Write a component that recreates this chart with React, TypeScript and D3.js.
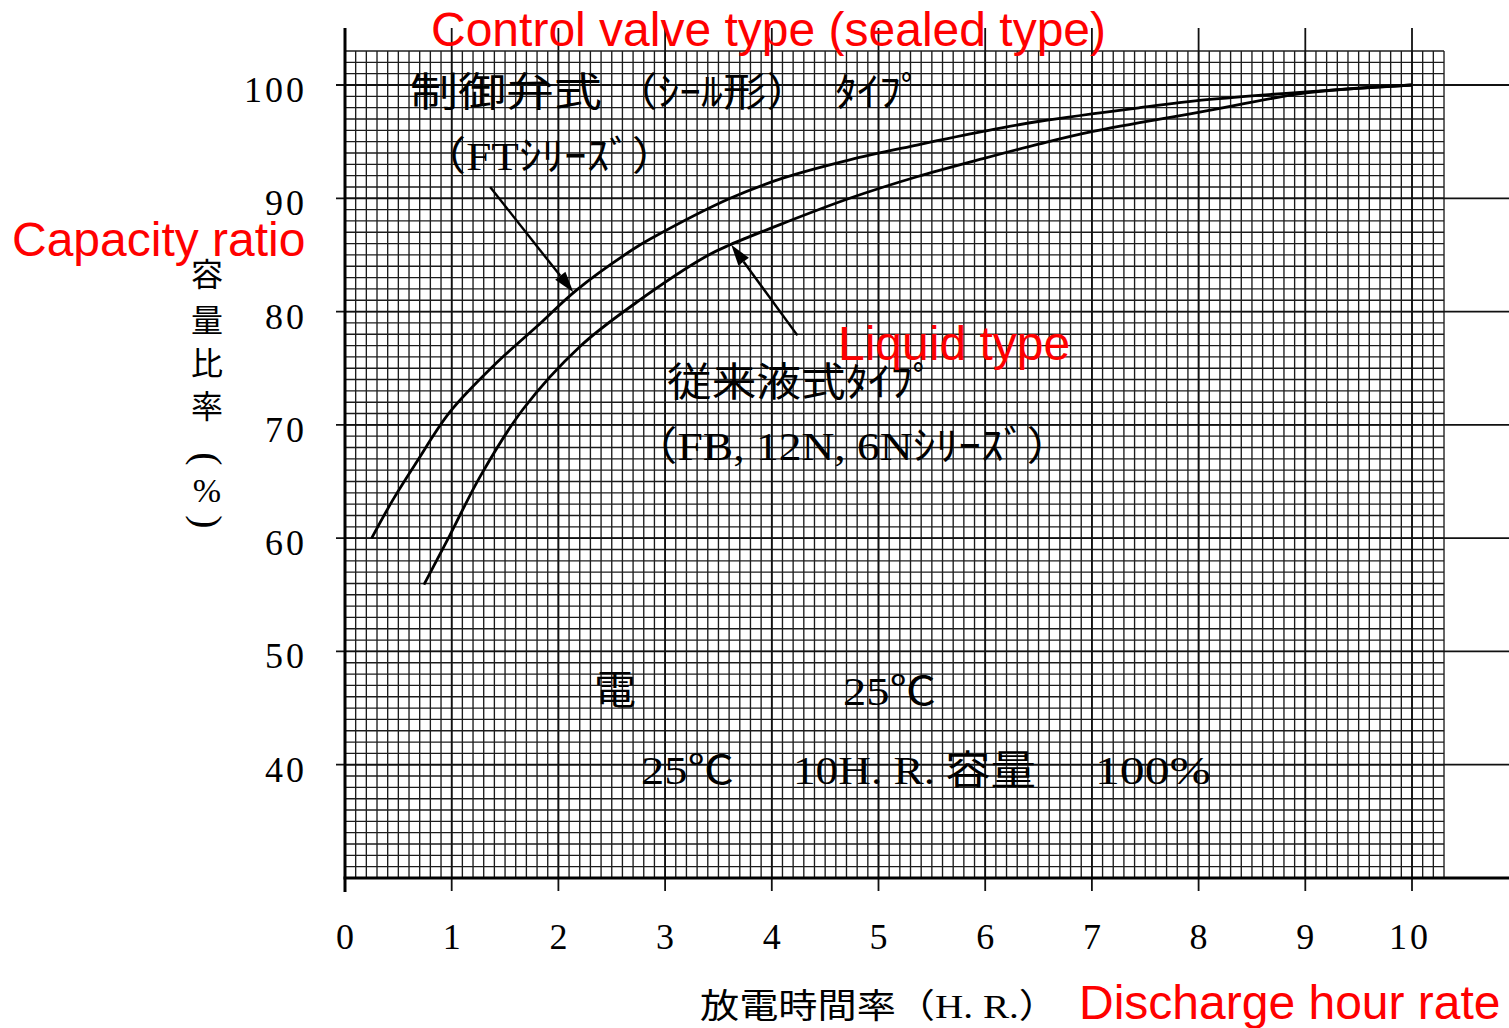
import React from "react";
import * as d3 from "d3";

// ---- data ----
const xTicks = [0, 1, 2, 3, 4, 5, 6, 7, 8, 9, 10];
const yTicks = [40, 50, 60, 70, 80, 90, 100];

// Control valve (sealed) type – FT series
const sealedHours = [0.25, 0.45, 0.67, 0.98, 1.39, 1.8, 2.17, 2.7, 2.86, 3.61, 4.11, 4.73, 5.36, 5.98, 6.51, 7.45, 8.08, 9.01, 10];
const sealedCapacity = [60.0, 63.4, 66.7, 71.1, 75.2, 78.7, 81.9, 85.5, 86.4, 90.0, 91.8, 93.4, 94.7, 95.9, 96.8, 98.0, 98.7, 99.4, 100];

// Conventional liquid type – FB, 12N, 6N series
const liquidHours = [0.74, 0.98, 1.27, 1.67, 2.2, 2.73, 3.39, 3.61, 4.11, 4.73, 5.36, 5.98, 6.51, 7.01, 8.01, 9.01, 10];
const liquidCapacity = [55.9, 60.2, 65.5, 71.4, 76.9, 80.8, 84.9, 85.9, 87.8, 90.0, 91.9, 93.5, 94.8, 95.9, 97.6, 99.3, 100];

// annotation arrows: [fromX, fromY, toX, toY] in data units
const arrowSealed = [1.36, 91.0, 2.14, 81.7];
const arrowLiquid = [4.24, 77.9, 3.62, 85.9];

const yTitleChars = ["容", "量", "比", "率"];

export default function App() {
  const W = 1509;
  const H = 1028;
  const x = d3.scaleLinear().domain([0, 10]).range([345, 1412]);
  const y = d3.scaleLinear().domain([30, 100]).range([878, 85]);
  const gridXMax = 10.3;
  const gridYMax = 103;
  const minorX = d3.range(0, 104).map((i) => i / 10);
  const minorY = d3.range(30, gridYMax + 1);

  const line = d3
    .line<[number, number]>()
    .x((d) => x(d[0]))
    .y((d) => y(d[1]))
    .curve(d3.curveCatmullRom.alpha(0.5));

  const sealed = sealedHours.map((h, i) => [h, sealedCapacity[i]] as [number, number]);
  const liquid = liquidHours.map((h, i) => [h, liquidCapacity[i]] as [number, number]);

  const arrow = (a: number[]) => {
    const x1 = x(a[0]), y1 = y(a[1]), x2 = x(a[2]), y2 = y(a[3]);
    const ang = Math.atan2(y2 - y1, x2 - x1);
    const L = 21, hw = 6.5;
    const bx = x2 - L * Math.cos(ang), by = y2 - L * Math.sin(ang);
    const px = -Math.sin(ang) * hw, py = Math.cos(ang) * hw;
    return (
      <g>
        <line x1={x1} y1={y1} x2={bx} y2={by} stroke="#000" strokeWidth={2.4} />
        <polygon points={`${x2},${y2} ${bx + px},${by + py} ${bx - px},${by - py}`} fill="#000" />
      </g>
    );
  };

  const serifJP = "'Liberation Serif', 'Noto Sans CJK JP', serif";
  const jp = "'Noto Sans CJK JP', sans-serif";
  const red = "'Liberation Sans', Arial, sans-serif";
  const gridStroke = "#1c1c1c";

  return (
    <svg width={W} height={H} style={{ position: "absolute", left: 0, top: 0, display: "block", background: "#fff" }}>
      <rect x={0} y={0} width={W} height={H} fill="#fff" />
      {/* minor grid */}
      <g stroke={gridStroke} strokeWidth={1.35}>
        {minorX.map((v) => (
          <line key={"vx" + v} x1={x(v)} x2={x(v)} y1={y(30)} y2={y(gridYMax)} />
        ))}
        {minorY.map((v) => (
          <line key={"hy" + v} x1={x(0)} x2={x(gridXMax)} y1={y(v)} y2={y(v)} />
        ))}
      </g>
      {/* major lines extending */}
      <g stroke="#111" strokeWidth={1.8}>
        {xTicks.map((v) => (
          <line key={"mx" + v} x1={x(v)} x2={x(v)} y1={28} y2={891} />
        ))}
        {yTicks.map((v) => (
          <line key={"my" + v} x1={336} x2={W} y1={y(v)} y2={y(v)} />
        ))}
      </g>
      {/* axes */}
      <line x1={x(0)} x2={x(0)} y1={28} y2={892} stroke="#000" strokeWidth={3} />
      <line x1={x(0) - 1.5} x2={W} y1={y(30)} y2={y(30)} stroke="#000" strokeWidth={3} />

      {/* curves */}
      <path d={line(sealed) || ""} fill="none" stroke="#000" strokeWidth={2.8} />
      <path d={line(liquid) || ""} fill="none" stroke="#000" strokeWidth={2.8} />
      {arrow(arrowSealed)}
      {arrow(arrowLiquid)}

      {/* tick labels */}
      <g fontFamily={serifJP} fontSize={36} fill="#000">
        {yTicks.map((v) => (
          <text key={"yl" + v} x={307} y={y(v) + 17} textAnchor="end" letterSpacing={3}>
            {v}
          </text>
        ))}
        {xTicks.map((v) => (
          <text key={"xl" + v} x={x(v) + (v === 10 ? -2 : 0)} y={949} textAnchor="middle" letterSpacing={v === 10 ? 3 : 0}>
            {v}
          </text>
        ))}
      </g>

      {/* y title vertical */}
      <g fontFamily={jp} fontSize={32} fill="#000" textAnchor="middle">
        {yTitleChars.map((c, i) => (
          <text key={c} x={207} y={[272, 318, 361, 404][i]} dominantBaseline="central">
            {c}
          </text>
        ))}
        <text x={207} y={459} dominantBaseline="central" fontFamily={serifJP} fontSize={40} transform="rotate(90 207 459)">
          (
        </text>
        <text x={207} y={490} dominantBaseline="central" fontFamily={serifJP} fontSize={34}>
          %
        </text>
        <text x={207} y={522} dominantBaseline="central" fontFamily={serifJP} fontSize={40} transform="rotate(90 207 522)">
          )
        </text>
      </g>

      {/* in-chart Japanese annotations */}
      <g fill="#000" fontFamily={serifJP} fontSize={40}>
        <text x={410} y={106} textLength={192} lengthAdjust="spacingAndGlyphs" fontFamily={jp}>制御弁式</text>
        <text x={614} y={106} textLength={196} lengthAdjust="spacingAndGlyphs">（ｼｰﾙ形）</text>
        <text x={835} y={106} textLength={88} lengthAdjust="spacingAndGlyphs" fontFamily={jp}>ﾀｲﾌﾟ</text>
        <text x={421} y={170} textLength={256} lengthAdjust="spacingAndGlyphs">（FTｼﾘｰｽﾞ）</text>
        <text x={667} y={396} textLength={268} lengthAdjust="spacingAndGlyphs" fontFamily={jp}>従来液式ﾀｲﾌﾟ</text>
        <text x={632} y={460} textLength={440} lengthAdjust="spacingAndGlyphs">（FB, 12N, 6Nｼﾘｰｽﾞ）</text>
        <text x={594} y={704} fontFamily={jp} textLength={42} lengthAdjust="spacingAndGlyphs">電</text>
        <text x={843} y={705} textLength={93} lengthAdjust="spacingAndGlyphs">25℃</text>
        <text x={641} y={784} textLength={93} lengthAdjust="spacingAndGlyphs">25℃</text>
        <text x={793} y={784} textLength={142} lengthAdjust="spacingAndGlyphs">10H. R.</text>
        <text x={945} y={784} textLength={91} lengthAdjust="spacingAndGlyphs" fontFamily={jp}>容量</text>
        <text x={1095} y={784} textLength={116} lengthAdjust="spacingAndGlyphs">100%</text>
      </g>

      {/* x title */}
      <text x={700} y={1018} fontFamily={serifJP} fontSize={34} textLength={358} lengthAdjust="spacingAndGlyphs" fill="#000">
        放電時間率（H. R.）
      </text>

      {/* red English annotations */}
      <g fill="#ff0000" fontFamily={red} fontSize={48}>
        <text x={431} y={46}>Control valve type (sealed type)</text>
        <text x={12} y={256}>Capacity ratio</text>
        <text x={838} y={360}>Liquid type</text>
        <text x={1079} y={1019}>Discharge hour rate</text>
      </g>
    </svg>
  );
}
